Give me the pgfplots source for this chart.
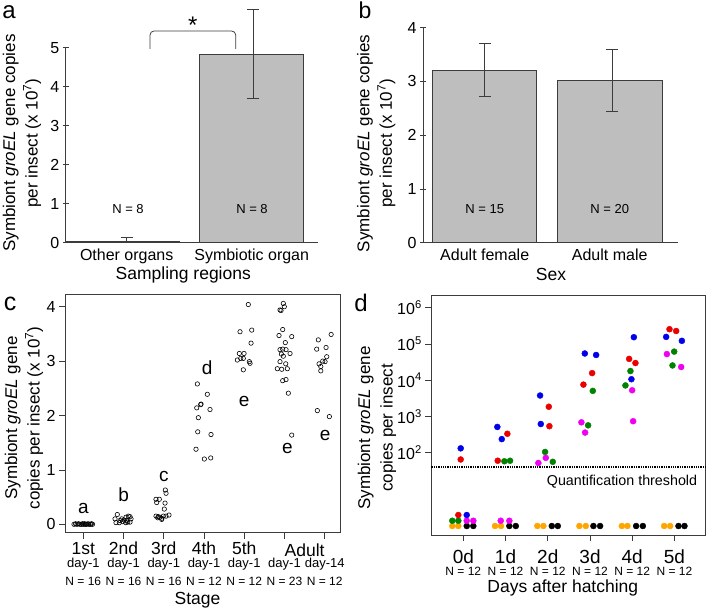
\documentclass[border=0pt]{standalone}
\usepackage{fontspec}
\setmainfont{Liberation Sans}
\usepackage{pgfplots}
\pgfplotsset{compat=1.18}

\definecolor{axgray}{RGB}{60,60,60}
\definecolor{bargray}{RGB}{190,190,190}
\definecolor{pblue}{RGB}{0,0,235}
\definecolor{pred}{RGB}{235,0,0}
\definecolor{pgreen}{RGB}{0,130,0}
\definecolor{pmag}{RGB}{240,0,240}
\definecolor{porange}{RGB}{255,165,0}
\newcommand{\fs}[1]{\fontsize{#1}{#1}\selectfont}

\tikzset{rowlab/.style={inner sep=0pt}}
\pgfplotsset{
  panel/.style={
    scale only axis, clip=false, anchor=south west,
    axis line style={axgray, line width=0.8pt},
    tick style={axgray, line width=0.8pt},
    tick align=outside, major tick length=6pt,
    ticklabel style={font=\fs{16}},
    ylabel style={align=center, font=\fontsize{17}{22.5}\selectfont, anchor=center},
    xlabel style={font=\fs{17.5}, anchor=center},
  },
  barpanel/.style={
    panel, axis x line=bottom, axis y line=left, axis line style={-},
    x tick style={draw=none},
  },
  ebar/.style={axgray, line width=0.8pt, mark=none, forget plot,
    error bars/.cd, y dir=#1, y explicit,
    error bar style={axgray, line width=0.8pt},
    error mark options={rotate=90, axgray, mark size=6pt, line width=0.8pt}},
  dots/.style={only marks, mark=*, mark size=3pt, mark options={draw=#1, fill=#1}},
}

\begin{document}
\begin{tikzpicture}
\path[use as bounding box] (0,0) rectangle (706pt,610pt);

% panel letters
\node[font=\fs{24}, inner sep=0pt, anchor=base] at (9pt,591pt) {a};
\node[font=\fs{23}, inner sep=0pt, anchor=base] at (365pt,591pt) {b};
\node[font=\fs{25}, inner sep=0pt, anchor=base] at (10pt,299pt) {c};
\node[font=\fs{24}, inner sep=0pt, anchor=base] at (361pt,298pt) {d};

% ---------- a ----------
\begin{axis}[barpanel, at={(65.7pt,367.3pt)}, width=252.3pt, height=195pt,
  xmin=0, xmax=252.3, ymin=0, ymax=5,
  xtick={61,186}, xticklabels={Other organs,Symbiotic organ},
  ytick={0,1,2,3,4,5}, yticklabels={0,1,2,3,4,5},
  ylabel={Symbiont \textit{groEL} gene copies\\per insect (x 10\textsuperscript{7})},
  ylabel style={at={(axis description cs:-0.173,0.511)}},
  xlabel={Sampling regions},
  xlabel style={at={(axis description cs:0.466,-0.166)}},
]
\addplot[ybar, bar shift=0pt, bar width=113.3, fill=bargray, draw=axgray] coordinates {(56.7,0.05)};
\addplot[ybar, bar shift=0pt, bar width=104, fill=bargray, draw=axgray] coordinates {(185.6,4.84)};
\addplot[ebar=plus] coordinates {(61,0.05) +- (0,0.09)};
\addplot[ebar=both] coordinates {(187.6,4.835) +- (0,1.145)};
\node[font=\fs{13}] at (axis cs:62.3,0.86) {N = 8};
\node[font=\fs{13}] at (axis cs:186.3,0.86) {N = 8};
\draw[axgray, line width=0.8pt, rounded corners=4pt]
  (axis cs:84.3,4.967) -- (axis cs:84.3,5.428) -- (axis cs:170,5.428) -- (axis cs:170,4.967);
\node[font=\fs{24}] at (axis cs:127,5.58) {*};
\end{axis}

% ---------- b ----------
\begin{axis}[barpanel, at={(423pt,367.3pt)}, width=255pt, height=215pt,
  xmin=0, xmax=255, ymin=0, ymax=4,
  xtick={61.7,186.7}, xticklabels={Adult female,Adult male},
  ytick={0,1,2,3,4}, yticklabels={0,1,2,3,4},
  ylabel={Symbiont \textit{groEL} gene copies\\per insect (x 10\textsuperscript{7})},
  ylabel style={at={(axis description cs:-0.183,0.462)}},
  xlabel={Sex},
  xlabel style={at={(axis description cs:0.502,-0.146)}},
]
\addplot[ybar, bar shift=0pt, bar width=104.3, fill=bargray, draw=axgray] coordinates {(61.2,3.21)};
\addplot[ybar, bar shift=0pt, bar width=105, fill=bargray, draw=axgray] coordinates {(186.8,3.02)};
\addplot[ebar=both] coordinates {(61.7,3.21) +- (0,0.49)};
\addplot[ebar=both] coordinates {(189.3,3.015) +- (0,0.575)};
\node[font=\fs{13}] at (axis cs:61.7,0.63) {N = 15};
\node[font=\fs{13}] at (axis cs:186.7,0.63) {N = 20};
\end{axis}

% ---------- c ----------
\begin{axis}[panel, at={(65pt,77.3pt)}, width=275pt, height=238.4pt,
  xmin=0.545, xmax=7.38, ymin=-0.1544, ymax=4.228,
  xtick pos=bottom, ytick pos=left,
  xtick={1,2,3,4,5,6,7}, xticklabels={1st,2nd,3rd,4th,5th,{},{}},
  xticklabel style={font=\fs{17.5}},
  ytick={0,1,2,3,4}, yticklabels={0,1,2,3,4},
  ylabel={Symbiont \textit{groEL} gene\\copies per insect (x 10\textsuperscript{7})},
  ylabel style={at={(axis description cs:-0.149,0.481)}},
  xlabel={Stage},
  xlabel style={at={(axis description cs:0.482,-0.282)}},
  mark options={line width=0.6pt},
]
\addplot[only marks, mark=o, mark size=2.2pt, black] coordinates {
(0.769,0.00) (0.806,0.01) (0.843,0.00) (0.881,0.01) (0.918,0.00) (0.955,0.00)
(0.980,0.01) (1.005,0.00) (1.030,0.01) (1.055,0.00) (1.080,0.00) (1.117,0.01)
(1.142,0.00) (1.179,0.00) (1.204,0.01) (1.229,0.00)};
\addplot[only marks, mark=o, mark size=2.2pt, black] coordinates {
(1.845,0.18) (1.788,0.10) (1.813,0.03) (1.913,0.07) (1.955,0.10) (2.012,0.08)
(2.061,0.13) (2.079,0.07) (2.119,0.15) (2.161,0.14) (2.186,0.10) (2.161,0.04)
(2.054,0.03) (1.979,0.05) (1.895,0.03) (2.104,0.04)};
\addplot[only marks, mark=o, mark size=2.2pt, black] coordinates {
(2.807,0.46) (2.889,0.46) (2.824,0.40) (3.038,0.63) (3.056,0.57) (3.031,0.39)
(3.013,0.28) (2.807,0.15) (2.864,0.14) (2.907,0.13) (2.949,0.11) (2.989,0.15)
(3.056,0.15) (3.130,0.17) (2.949,0.09) (2.849,0.12)};
\addplot[only marks, mark=o, mark size=2.2pt, black] coordinates {
(3.834,2.58) (4.082,2.39) (3.926,2.21) (3.819,2.14) (3.918,2.20) (4.149,2.11)
(3.859,1.96) (3.844,1.70) (4.174,1.65) (3.801,1.38) (4.008,1.20) (4.167,1.22)};
\addplot[only marks, mark=o, mark size=2.2pt, black] coordinates {
(5.101,4.04) (4.895,3.54) (5.186,3.57) (5.169,3.33) (4.878,3.14) (4.995,3.14)
(4.913,3.05) (4.977,3.05) (4.828,3.02) (5.126,2.99) (5.144,2.96) (4.977,2.84)};
\addplot[only marks, mark=o, mark size=2.2pt, black] coordinates {
(5.971,4.06) (5.996,4.00) (5.889,3.94) (5.914,3.93) (5.956,3.58) (5.864,3.47)
(6.180,3.45) (6.021,3.34) (5.889,3.21) (5.956,3.22) (6.038,3.21) (5.922,3.13)
(6.138,3.14) (5.971,3.09) (5.889,2.99) (6.031,2.95) (5.931,2.85) (6.071,2.86)
(5.822,2.86) (5.956,2.64) (6.038,2.66) (6.096,2.41) (6.180,1.64)};
\addplot[only marks, mark=o, mark size=2.2pt, black] coordinates {
(7.160,3.49) (6.841,3.39) (6.801,3.22) (7.033,3.25) (7.050,3.08) (7.008,2.99)
(6.951,3.00) (6.859,2.95) (6.902,2.90) (6.902,2.82) (6.817,2.09) (7.116,1.98)};
% group letters
\node[font=\fs{19}] at (axis cs:1,0.29) {a};
\node[font=\fs{19}] at (axis cs:2,0.54) {b};
\node[font=\fs{19}] at (axis cs:3,0.875) {c};
\node[font=\fs{19}] at (axis cs:4.08,2.87) {d};
\node[font=\fs{19}] at (axis cs:5,2.25) {e};
\node[font=\fs{19}] at (axis cs:6.07,1.40) {e};
\node[font=\fs{19}] at (axis cs:7.01,1.64) {e};
% second and third label rows
\node[rowlab, font=\fs{17.5}] at (axis cs:6.5,-0.1544) [yshift=-17.3pt] {Adult};
\node[rowlab, font=\fs{13}] at (axis cs:1,-0.1544) [yshift=-31.8pt] {day-1};
\node[rowlab, font=\fs{13}] at (axis cs:2,-0.1544) [yshift=-31.8pt] {day-1};
\node[rowlab, font=\fs{13}] at (axis cs:3,-0.1544) [yshift=-31.8pt] {day-1};
\node[rowlab, font=\fs{13}] at (axis cs:4,-0.1544) [yshift=-31.8pt] {day-1};
\node[rowlab, font=\fs{13}] at (axis cs:5,-0.1544) [yshift=-31.8pt] {day-1};
\node[rowlab, font=\fs{13}] at (axis cs:6,-0.1544) [yshift=-31.8pt] {day-1};
\node[rowlab, font=\fs{13}] at (axis cs:7,-0.1544) [yshift=-31.8pt] {day-14};
\node[rowlab, font=\fs{12}] at (axis cs:1,-0.1544) [yshift=-49pt] {N = 16};
\node[rowlab, font=\fs{12}] at (axis cs:2,-0.1544) [yshift=-49pt] {N = 16};
\node[rowlab, font=\fs{12}] at (axis cs:3,-0.1544) [yshift=-49pt] {N = 16};
\node[rowlab, font=\fs{12}] at (axis cs:4,-0.1544) [yshift=-49pt] {N = 12};
\node[rowlab, font=\fs{12}] at (axis cs:5,-0.1544) [yshift=-49pt] {N = 12};
\node[rowlab, font=\fs{12}] at (axis cs:6,-0.1544) [yshift=-49pt] {N = 23};
\node[rowlab, font=\fs{12}] at (axis cs:7,-0.1544) [yshift=-49pt] {N = 12};
\end{axis}

% ---------- d ----------
\begin{axis}[panel, at={(431.3pt,75pt)}, width=274pt, height=240pt,
  xmin=-0.758, xmax=5.73, ymode=log, ymin=0.533, ymax=2.27e6,
  yminorticks=false, xtick pos=bottom, ytick pos=left,
  xtick={0,1,2,3,4,5}, xticklabels={0d,1d,2d,3d,4d,5d},
  xticklabel style={font=\fs{19}, yshift=-5pt},
  ytick={1e2,1e3,1e4,1e5,1e6},
  yticklabels={10\textsuperscript{2},10\textsuperscript{3},10\textsuperscript{4},10\textsuperscript{5},10\textsuperscript{6}},
  yticklabel style={font=\fs{16}},
  ylabel={Symbiont \textit{groEL} gene\\copies per insect},
  ylabel style={at={(axis description cs:-0.198,0.446)}},
  xlabel={Days after hatching},
  xlabel style={at={(axis description cs:0.48,-0.222)}},
]
\addplot[densely dotted, line width=1.3pt, black, forget plot] coordinates {(-0.758,40.3) (5.73,40.3)};
\node[font=\fs{14.3}, anchor=east] at (axis cs:5.62,16.3) {Quantification threshold};
\addplot[dots=porange] coordinates {
(-0.261,0.944) (-0.118,0.944) (0.751,0.944) (0.893,0.944) (1.754,0.944) (1.896,0.944)
(2.749,0.944) (2.900,0.944) (3.754,0.944) (3.886,0.944) (4.756,0.944) (4.898,0.944)};
\addplot[dots=black] coordinates {
(0.081,0.944) (0.237,0.944) (1.090,0.944) (1.242,0.944) (2.095,0.944) (2.237,0.944)
(3.081,0.944) (3.239,0.944) (4.092,0.944) (4.251,0.944) (5.095,0.944) (5.237,0.944)};
\addplot[dots=pgreen] coordinates {
(-0.261,1.32) (-0.118,1.32) (0.972,58) (1.107,60) (1.936,105) (2.118,56)
(3.066,5100) (2.955,570) (3.957,18000) (3.839,7200) (4.993,62000) (4.953,25700)};
\addplot[dots=pmag] coordinates {
(0.081,1.32) (0.237,1.32) (0.886,1.32) (1.090,1.32) (1.777,52) (1.953,72)
(2.796,690) (2.884,360) (3.998,5300) (4.021,740) (4.820,53000) (5.159,23300)};
\addplot[dots=pred] coordinates {
(-0.118,1.90) (-0.062,65) (1.043,333) (0.815,60) (2.024,1860) (2.038,540)
(2.844,7600) (3.050,15800) (3.927,39000) (4.076,30000) (4.882,258000) (5.040,230000)};
\addplot[dots=pblue] coordinates {
(0.081,1.90) (-0.062,132) (0.806,515) (0.910,237) (1.818,3800) (1.834,620)
(2.877,55000) (3.145,50000) (4.038,155000) (3.981,10700) (4.803,158000) (5.175,123000)};
\pgfplotsinvokeforeach{0,1,2,3,4,5}{
  \node[font=\fs{12}] at (axis cs:#1,0.533) [yshift=-36.7pt] {N = 12};
}
\end{axis}
\end{tikzpicture}
\end{document}
